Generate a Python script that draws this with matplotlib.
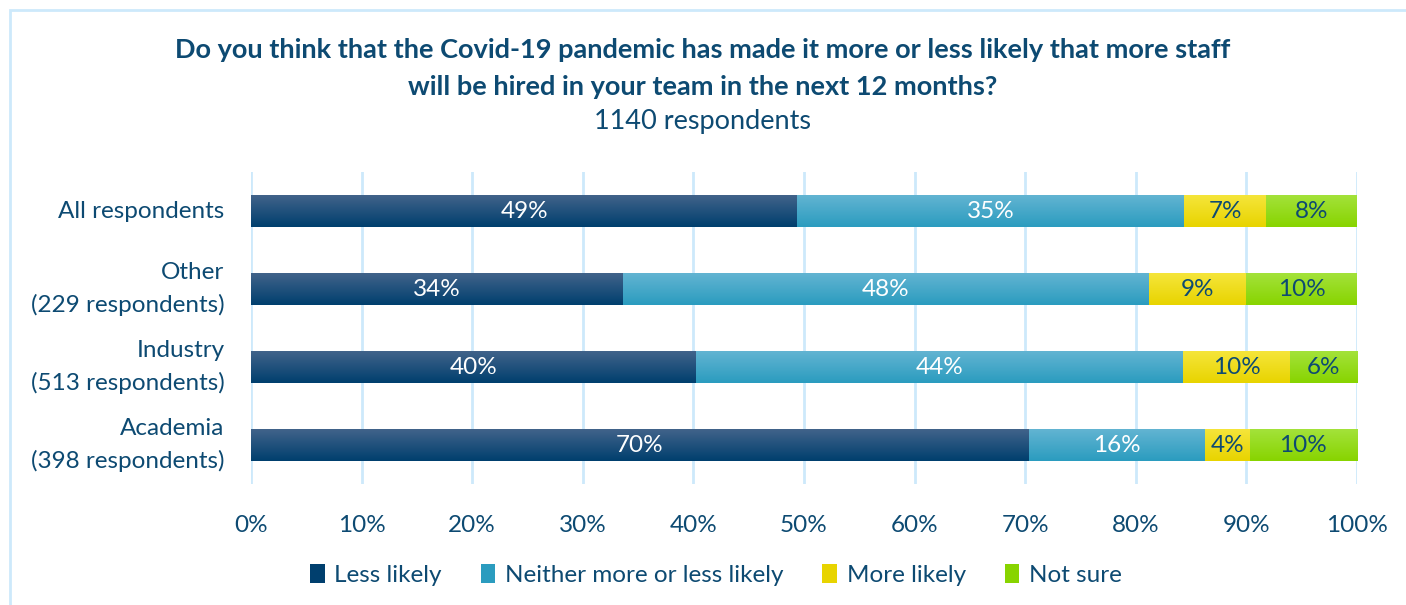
import numpy as np
import matplotlib
matplotlib.use("Agg")
from matplotlib import pyplot as plt
from matplotlib.patches import Rectangle, Patch
from matplotlib.colors import LinearSegmentedColormap

plt.rcParams['font.family'] = ['Lato', 'DejaVu Sans']

groups = ['All respondents', 'Other\n(229 respondents)', 'Industry\n(513 respondents)', 'Academia\n(398 respondents)']
series = ['Less likely', 'Neither more or less likely', 'More likely', 'Not sure']
less_likely = [49.4, 33.6, 40.2, 70.3]
neither = [35.0, 47.6, 44.1, 16.0]
more_likely = [7.4, 8.8, 9.6, 4.0]
not_sure = [8.2, 10.0, 6.1, 9.7]
labels = [[49, 34, 40, 70], [35, 48, 44, 16], [7, 9, 10, 4], [8, 10, 6, 10]]

# top colour, bottom colour of each gradient
grads = [('#41638a', '#003f6e'), ('#62b4d2', '#2b9cbf'), ('#f5e53a', '#e8d400'), ('#a3e23a', '#88d400')]
text_cols = ['white', 'white', '#0d4a72', '#0d4a72']
navy = '#0d4a72'
fs = 17.5

fig = plt.figure(figsize=(14.06, 6.05), dpi=100)
fig.patches.append(Rectangle((10/1406, -0.01), 1.02, 1 - 10/605 + 0.01, transform=fig.transFigure,
                             fill=False, edgecolor='#cde9fb', linewidth=2))

ax = fig.add_axes([251/1406, 1 - 484/605, (1357-251)/1406, (484-172)/605])
y = np.arange(len(groups))
left = np.zeros(len(groups))
for vals, (c1, c2), tc, lab in zip([less_likely, neither, more_likely, not_sure], grads, text_cols, labels):
    bars = ax.barh(y, vals, left=left, height=0.41, color=c2, zorder=2)
    cmap = LinearSegmentedColormap.from_list('g', [c1, c2])
    for b, v, l in zip(bars, vals, lab):
        x0, y0 = b.get_x(), b.get_y()
        im = ax.imshow(np.linspace(0, 1, 50).reshape(-1, 1), cmap=cmap, aspect='auto',
                       extent=(x0, x0 + b.get_width(), y0, y0 + b.get_height()), origin='lower', zorder=3)
        im.set_clip_path(b)
        ax.text(x0 + b.get_width()/2, b.get_y() + b.get_height()/2, f'{l}%', ha='center', va='center',
                color=tc, fontsize=fs, zorder=4)
    left += np.array(vals)

ax.set_xlim(0, 100)
ax.set_ylim(3.5, -0.5)
ax.set_xticks(np.arange(0, 101, 10))
ax.set_xticklabels([f'{t}%' for t in range(0, 101, 10)])
ax.set_yticks(y)
ax.set_yticklabels(groups, linespacing=1.55)
ax.tick_params(length=0, labelsize=fs, labelcolor=navy)
ax.tick_params(axis='x', pad=22)
ax.tick_params(axis='y', pad=19)
for lbl in ax.get_yticklabels():
    lbl.set_horizontalalignment('right')
    lbl.set_verticalalignment('center')
ax.grid(axis='x', color='#cde9fb', linewidth=2, zorder=0)
ax.set_axisbelow(True)
for s in ax.spines.values():
    s.set_visible(False)

fig.text(0.5, 1 - 50/605, 'Do you think that the Covid-19 pandemic has made it more or less likely that more staff',
         ha='center', va='center', fontsize=19.5, fontweight='bold', color=navy)
fig.text(0.5, 1 - 87/605, 'will be hired in your team in the next 12 months?',
         ha='center', va='center', fontsize=19.5, fontweight='bold', color=navy)
fig.text(0.5, 1 - 122/605, '1140 respondents', ha='center', va='center', fontsize=19.5, color=navy)

handles = [Patch(facecolor=c2, edgecolor='none') for _, c2 in grads]
fig.legend(handles, series, loc='center', bbox_to_anchor=(716/1406, 1 - 575/605), ncol=4, frameon=False,
           fontsize=fs, labelcolor=navy, handlelength=0.6, handleheight=0.8, handletextpad=0.4, columnspacing=1.6)

fig.savefig('out.png', dpi=100)
